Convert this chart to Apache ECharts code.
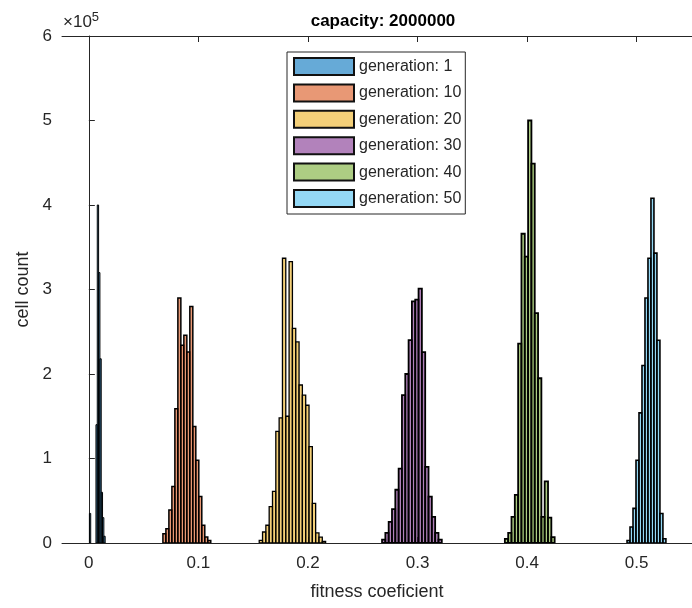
<!DOCTYPE html>
<html>
<head>
<meta charset="utf-8">
<script src="https://cdn.jsdelivr.net/npm/echarts@6/dist/echarts.min.js"></script>
<style>html,body{margin:0;padding:0;background:#fff;}#c{width:692px;height:608px;}</style>
</head>
<body>
<div id="c"></div>
<script>
// ---- data ----
const seriesNames = ['generation: 1','generation: 10','generation: 20','generation: 30','generation: 40','generation: 50'];
const xTicks = [0, 0.1, 0.2, 0.3, 0.4, 0.5];
const yTicks = [0, 1, 2, 3, 4, 5, 6];

// histogram bins: first bin left edge, bin width, counts
const gen1Start = 0.0005, gen1Width = 0.0012;
const gen1Counts = [35000, 0, 0, 0, 0, 140000, 400000, 320000, 218000, 60000, 30000, 8000];

const gen10Start = 0.0676, gen10Width = 0.00273;
const gen10Counts = [11000, 17000, 39000, 67000, 159000, 290000, 234000, 246000, 226000, 280000, 138000, 98000, 55000, 21000, 7000, 3000];

const gen20Start = 0.1555, gen20Width = 0.00303;
const gen20Counts = [3000, 13000, 21000, 43000, 61000, 132000, 148000, 337000, 150000, 333000, 254000, 238000, 187000, 175000, 163000, 114000, 47000, 12000, 7000, 2000];

const gen30Start = 0.2676, gen30Width = 0.00303;
const gen30Counts = [4000, 12000, 25000, 40000, 63000, 88000, 175000, 200000, 240000, 286000, 288000, 301000, 226000, 90000, 55000, 31000, 12000, 4000];

const gen40Start = 0.3797, gen40Width = 0.00303;
const gen40Counts = [5000, 12000, 31000, 57000, 236000, 366000, 339000, 500000, 449000, 272000, 195000, 31000, 73000, 30000, 7000];

const gen50Start = 0.4912, gen50Width = 0.00273;
const gen50Counts = [3000, 19000, 41000, 98000, 154000, 210000, 290000, 337000, 408000, 343000, 240000, 35000, 5000];

const faceColors = ['rgba(0,114,189,0.6)','rgba(217,83,25,0.6)','rgba(237,177,32,0.6)','rgba(126,47,142,0.6)','rgba(119,172,48,0.6)','rgba(77,190,238,0.6)'];
const edgeWidths = [1, 1.5, 1.3, 1.8, 1.8, 1.6];

const hists = [
  [gen1Start, gen1Width, gen1Counts],
  [gen10Start, gen10Width, gen10Counts],
  [gen20Start, gen20Width, gen20Counts],
  [gen30Start, gen30Width, gen30Counts],
  [gen40Start, gen40Width, gen40Counts],
  [gen50Start, gen50Width, gen50Counts]
];

function binData(start, width, counts) {
  const out = [];
  counts.forEach((c, i) => { if (c > 0) out.push([start + i * width, start + (i + 1) * width, c]); });
  return out;
}

const axisColor = '#262626';
const fontFam = 'Liberation Sans, Arial, Helvetica, sans-serif';

const series = hists.map((h, k) => ({
  type: 'custom',
  name: seriesNames[k],
  xAxisIndex: 0,
  yAxisIndex: 0,
  clip: true,
  itemStyle: { color: faceColors[k], borderColor: '#111', borderWidth: 1 },
  encode: { x: [0, 1], y: 2 },
  data: binData(h[0], h[1], h[2]),
  renderItem: function (params, api) {
    const p0 = api.coord([api.value(0), api.value(2)]);
    const p1 = api.coord([api.value(1), 0]);
    return {
      type: 'rect',
      shape: { x: p0[0], y: p0[1], width: p1[0] - p0[0], height: p1[1] - p0[1] },
      style: { fill: faceColors[k], stroke: '#000', lineWidth: edgeWidths[k] }
    };
  }
}));

const chart = echarts.init(document.getElementById('c'), null, { renderer: 'canvas' });
chart.setOption({
  backgroundColor: '#ffffff',
  animation: false,
  title: {
    text: 'capacity: 2000000',
    left: 378, top: 8, textAlign: 'center',
    textStyle: { fontFamily: fontFam, fontSize: 17, fontWeight: 'bold', color: '#000' }
  },
  graphic: [{
    type: 'text', left: 63, top: 11,
    style: {
      text: '{a|×10}{b|5}',
      rich: {
        a: { fontFamily: fontFam, fontSize: 17, fill: axisColor, verticalAlign: 'bottom', lineHeight: 20 },
        b: { fontFamily: fontFam, fontSize: 13, fill: axisColor, verticalAlign: 'top', lineHeight: 20, padding: [0,0,8,0] }
      }
    }
  }],
  legend: {
    orient: 'vertical',
    left: 287, top: 52,
    padding: [5, 4, 6, 6],
    itemGap: 7.4,
    itemWidth: 60, itemHeight: 17,
    itemTextGap: 5,
    icon: 'rect',
    borderColor: axisColor, borderWidth: 1,
    backgroundColor: '#fff',
    textStyle: { fontFamily: fontFam, fontSize: 16, color: axisColor, lineHeight: 17 },
    data: seriesNames
  },
  grid: { left: 62, top: 36, width: 632.5, height: 507, containLabel: false },
  xAxis: [{
    type: 'value', min: -0.0245, max: 0.5505, position: 'bottom',
    axisLine: { show: true, lineStyle: { color: axisColor, width: 1 } },
    axisTick: { show: true, inside: true, length: 6, customValues: xTicks, lineStyle: { color: axisColor } },
    axisLabel: { customValues: xTicks, fontFamily: fontFam, fontSize: 17, color: axisColor, margin: 12,
      formatter: v => String(Math.round(v * 10) / 10) },
    splitLine: { show: false },
    name: 'fitness coeficient', nameLocation: 'middle', nameGap: 40,
    nameTextStyle: { fontFamily: fontFam, fontSize: 18, color: axisColor }
  }, {
    type: 'value', min: -0.0245, max: 0.5505, position: 'top',
    axisLine: { show: true, onZero: false, lineStyle: { color: axisColor, width: 1 } },
    axisTick: { show: true, inside: true, length: 6, customValues: xTicks, lineStyle: { color: axisColor } },
    axisLabel: { show: false },
    splitLine: { show: false }
  }],
  yAxis: [{
    type: 'value', min: 0, max: 600000, interval: 100000,
    axisLine: { show: true, lineStyle: { color: axisColor, width: 1 } },
    axisTick: { show: true, inside: true, length: 6, lineStyle: { color: axisColor } },
    axisLabel: { fontFamily: fontFam, fontSize: 17, color: axisColor, margin: 10,
      formatter: v => String(yTicks[Math.round(v / 100000)]) },
    splitLine: { show: false },
    name: 'cell count', nameLocation: 'middle', nameGap: 25, nameRotate: 90,
    nameTextStyle: { fontFamily: fontFam, fontSize: 18, color: axisColor }
  }],
  series: series
});
</script>
</body>
</html>
